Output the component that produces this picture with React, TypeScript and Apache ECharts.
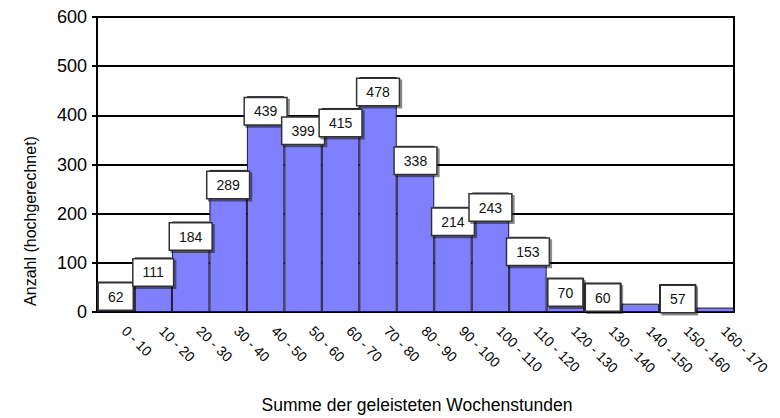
import React, { useEffect, useRef } from "react";
import * as echarts from "echarts";

const categories = [
  "0 - 10", "10 - 20", "20 - 30", "30 - 40", "40 - 50", "50 - 60", "60 - 70",
  "70 - 80", "80 - 90", "90 - 100", "100 - 110", "110 - 120", "120 - 130",
  "130 - 140", "140 - 150", "150 - 160", "160 - 170",
];
const values = [62, 111, 184, 289, 439, 399, 415, 478, 338, 214, 243, 153, 70, 60, 17, 57, 9];
const labelled = [true, true, true, true, true, true, true, true, true, true, true, true, true, true, false, true, false];
const yTicks = { min: 0, max: 600, interval: 100 };
const xTitle = "Summe der geleisteten Wochenstunden";
const yTitle = "Anzahl (hochgerechnet)";

const FONT = "'Liberation Sans', Arial, Helvetica, sans-serif";

export default function App() {
  const ref = useRef<HTMLDivElement>(null);
  useEffect(() => {
    document.body.style.margin = "0";
    if (!ref.current) return;
    const chart = echarts.init(ref.current, undefined, { renderer: "svg" });
    chart.setOption({
      animation: false,
      backgroundColor: "#fff",
      textStyle: { fontFamily: FONT },
      grid: {
        left: 97, right: 46, top: 17, bottom: 106,
        show: true, borderColor: "#000", borderWidth: 2, backgroundColor: "transparent",
      },
      xAxis: {
        type: "category",
        data: categories,
        boundaryGap: true,
        axisLine: { lineStyle: { color: "#000", width: 2 } },
        axisTick: { alignWithLabel: true, length: 5, lineStyle: { color: "#000", width: 2 } },
        axisLabel: {
          interval: 0, rotate: -45, margin: 8, fontSize: 14, color: "#000",
          fontFamily: FONT, padding: [0, 0, 0, 12],
        },
      },
      yAxis: {
        type: "value",
        min: yTicks.min, max: yTicks.max, interval: yTicks.interval,
        axisLine: { show: true, lineStyle: { color: "#000", width: 2 } },
        axisTick: { show: true, length: 5, lineStyle: { color: "#000", width: 2 } },
        axisLabel: { fontSize: 18, color: "#000", margin: 10, fontFamily: FONT },
        splitLine: { lineStyle: { color: "#000", width: 2 } },
      },
      graphic: [
        {
          type: "text", x: 417, y: 405,
          style: { text: xTitle, fontSize: 17.5, fill: "#000", fontFamily: FONT, align: "center", verticalAlign: "middle" },
        },
        {
          type: "text", x: 30, y: 221, rotation: Math.PI / 2,
          style: { text: yTitle, fontSize: 16, fill: "#000", fontFamily: FONT, align: "center", verticalAlign: "middle" },
        },
      ],
      series: [
        {
          type: "bar",
          barCategoryGap: "0%",
          data: values.map((v, i) => ({ value: v, label: { show: labelled[i] } })),
          itemStyle: { color: "#8080ff", borderColor: "#1a1a2e", borderWidth: 1 },
          label: {
            show: true,
            position: "insideTop",
            distance: 2,
            fontSize: 14,
            lineHeight: 16,
            color: "#111",
            fontFamily: FONT,
            backgroundColor: "#fff",
            borderColor: "#333",
            borderWidth: 1.5,
            padding: [5, 9, 5, 9],
            shadowColor: "rgba(0,0,0,0.45)",
            shadowOffsetX: 2,
            shadowOffsetY: 2,
            shadowBlur: 0,
          },
        },
      ],
    });
    return () => chart.dispose();
  }, []);
  return <div ref={ref} style={{ position: "fixed", left: 0, top: 0, width: 780, height: 418 }} />;
}
